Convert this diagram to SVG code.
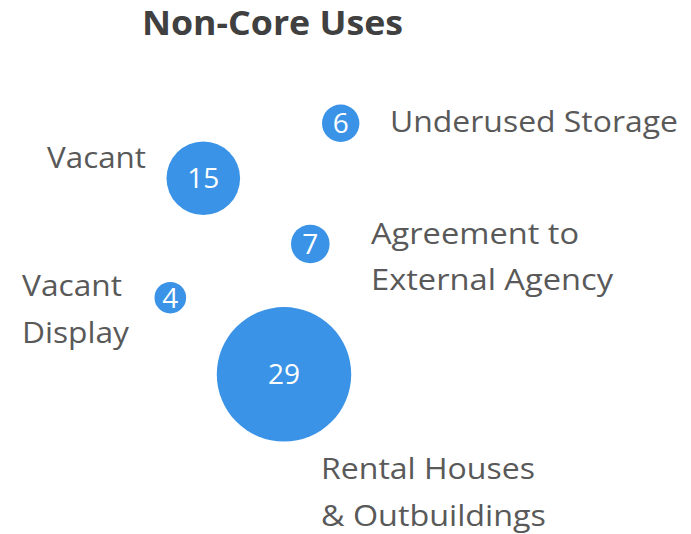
<svg xmlns="http://www.w3.org/2000/svg" width="691" height="534" viewBox="0 0 691 534">
<style>
.bub{fill:#3A93E6}
.num{font-family:"Open Sans","Liberation Sans",sans-serif;font-size:28px;fill:#ffffff;text-anchor:middle}
.lbl{font-family:"Open Sans","Liberation Sans",sans-serif;font-size:30px;fill:#595959}
.title{font-family:"Open Sans","Liberation Sans",sans-serif;font-size:34px;font-weight:bold;fill:#404040}
</style>
<rect width="691" height="534" fill="#ffffff"/>
<text class="title" x="142" y="35" textLength="261" lengthAdjust="spacingAndGlyphs">Non-Core Uses</text>
<g id="connectors"></g>
<g id="node-underused-storage">
<circle class="bub" cx="340.7" cy="123.3" r="18.7"/>
<text class="num" x="340.7" y="133.3">6</text>
<text class="lbl" x="390" y="132" textLength="288" lengthAdjust="spacingAndGlyphs">Underused Storage</text>
</g>
<g id="node-vacant">
<circle class="bub" cx="203.3" cy="178.3" r="36.8"/>
<text class="num" x="203.3" y="188.3">15</text>
<text class="lbl" x="47" y="168" textLength="99" lengthAdjust="spacingAndGlyphs">Vacant</text>
</g>
<g id="node-agreement">
<circle class="bub" cx="310.3" cy="244" r="19.3"/>
<text class="num" x="310.3" y="254">7</text>
<text class="lbl" x="371" y="244" textLength="208" lengthAdjust="spacingAndGlyphs">Agreement to</text>
<text class="lbl" x="371" y="290" textLength="242" lengthAdjust="spacingAndGlyphs">External Agency</text>
</g>
<g id="node-vacant-display">
<circle class="bub" cx="170.3" cy="297.7" r="15.8"/>
<text class="num" x="170.3" y="307.7">4</text>
<text class="lbl" x="22" y="296" textLength="100" lengthAdjust="spacingAndGlyphs">Vacant</text>
<text class="lbl" x="22" y="343" textLength="107" lengthAdjust="spacingAndGlyphs">Display</text>
</g>
<g id="node-rental">
<circle class="bub" cx="284" cy="374.3" r="67.2"/>
<text class="num" x="284" y="384.3">29</text>
<text class="lbl" x="321" y="479" textLength="214" lengthAdjust="spacingAndGlyphs">Rental Houses</text>
<text class="lbl" x="321" y="526" textLength="225" lengthAdjust="spacingAndGlyphs">&amp; Outbuildings</text>
</g>
</svg>
